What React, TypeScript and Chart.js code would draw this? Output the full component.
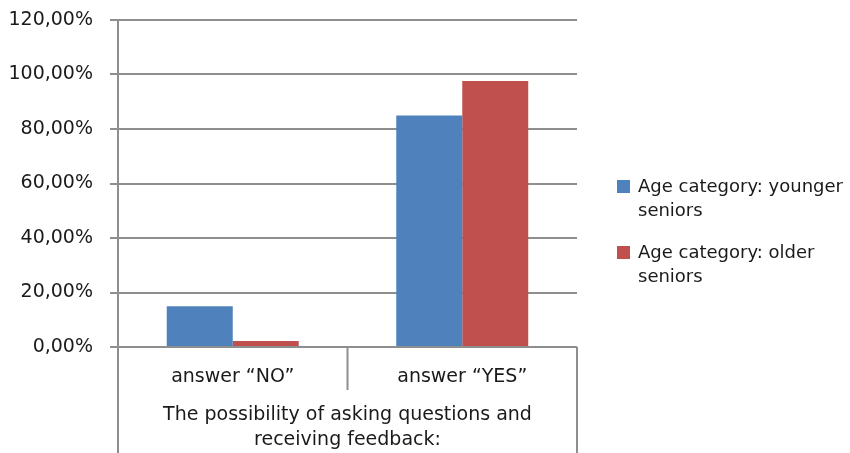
import React, { useEffect, useRef } from "react";
import { Chart, registerables } from "chart.js";

Chart.register(...registerables);

const categories = ["answer “NO”", "answer “YES”"];
const groupLabel = ["The possibility of asking questions and", "receiving feedback:"];
const seriesNames = ["Age category: younger seniors", "Age category: older seniors"];
const youngerSeniors = [15, 85];
const olderSeniors = [2.2, 97.6];
const seriesColors = ["#4F81BD", "#C0504D"];
const yMin = 0;
const yMax = 120;
const yStep = 20;

const FONT = '"DejaVu Sans", sans-serif';
const GRID = "#8e8e8e";
const TEXT = "#1a1a1a";

const axisPlugin = {
  id: "multiLevelAxis",
  afterDraw(chart: any) {
    const { ctx, chartArea } = chart;
    const x = chart.scales.x;
    const left = chartArea.left;
    const right = chartArea.right;
    const bottom = chartArea.bottom;
    const mid = (left + right) / 2;
    const H = chart.height;
    ctx.save();
    ctx.strokeStyle = GRID;
    ctx.lineWidth = 2;
    ctx.beginPath();
    ctx.moveTo(left, bottom);
    ctx.lineTo(left, H);
    ctx.moveTo(right, bottom);
    ctx.lineTo(right, H);
    ctx.moveTo(mid, bottom);
    ctx.lineTo(mid, bottom + 43);
    ctx.stroke();
    ctx.fillStyle = TEXT;
    ctx.font = "19px " + FONT;
    ctx.textAlign = "center";
    ctx.textBaseline = "middle";
    categories.forEach((c, i) => {
      ctx.fillText(c, x.getPixelForValue(i), bottom + 30);
    });
    groupLabel.forEach((l, i) => {
      ctx.fillText(l, mid, bottom + 68 + i * 25);
    });
    ctx.restore();
  },
};

export default function App() {
  const ref = useRef<HTMLCanvasElement>(null);
  useEffect(() => {
    document.body.style.margin = "0";
    const chart = new Chart(ref.current!, {
      type: "bar",
      data: {
        labels: categories,
        datasets: [
          { label: seriesNames[0], data: youngerSeniors, backgroundColor: seriesColors[0] },
          { label: seriesNames[1], data: olderSeniors, backgroundColor: seriesColors[1] },
        ],
      },
      options: {
        responsive: false,
        animation: false,
        devicePixelRatio: 1,
        layout: { padding: { top: 20, right: 273, left: 0, bottom: 0 } },
        datasets: { bar: { categoryPercentage: 0.575, barPercentage: 1 } },
        plugins: { legend: { display: false }, tooltip: { enabled: false } },
        scales: {
          x: {
            ticks: { display: false },
            grid: { display: false },
            border: { display: false },
            afterFit: (s: any) => {
              s.height = 106;
              s.paddingLeft = 0;
              s.paddingRight = 0;
            },
          },
          y: {
            min: yMin,
            max: yMax,
            ticks: {
              stepSize: yStep,
              padding: 17,
              color: TEXT,
              font: { family: FONT, size: 19 },
              callback: (v: any) => Number(v).toFixed(2).replace(".", ",") + "%",
            },
            grid: { color: GRID, lineWidth: 2, tickLength: 8 },
            border: { display: true, color: GRID, width: 2 },
            afterFit: (s: any) => {
              s.width = 118;
              s.paddingTop = 0;
              s.paddingBottom = 0;
            },
          },
        },
      },
      plugins: [axisPlugin],
    });
    return () => chart.destroy();
  }, []);

  return (
    <div style={{ position: "relative", width: 850, height: 453, background: "#fff" }}>
      <canvas ref={ref} width={850} height={453} style={{ display: "block" }} />
      <div style={{ position: "absolute", left: 617, top: 174, fontFamily: FONT, fontSize: 18, color: TEXT, lineHeight: "24px" }}>
        {seriesNames.map((n, i) => (
          <div key={n} style={{ display: "flex", alignItems: "flex-start", marginBottom: 18 }}>
            <div style={{ width: 13, height: 13, background: seriesColors[i], marginTop: 6, marginRight: 8, flex: "none" }} />
            <div style={{ width: 212 }}>{n}</div>
          </div>
        ))}
      </div>
    </div>
  );
}
